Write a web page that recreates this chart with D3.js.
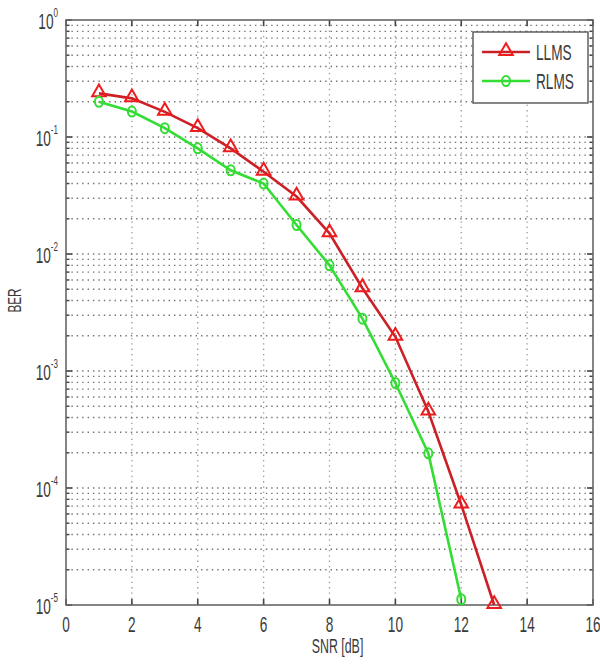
<!DOCTYPE html>
<html>
<head>
<meta charset="utf-8">
<script src="https://cdn.jsdelivr.net/npm/d3@7"></script>
<style>
  body { margin: 0; background: #fff; }
  text { font-family: "Liberation Sans", Arial, sans-serif; fill: #3a3a3a; }
</style>
</head>
<body>
<div id="chart"></div>
<script>
// data
var snrLLMS = [1, 2, 3, 4, 5, 6, 7, 8, 9, 10, 11, 12, 13];
var berLLMS = [0.236, 0.214, 0.164, 0.119, 0.080, 0.0505, 0.031, 0.015, 0.0051, 0.00196, 0.00045, 0.000072, 0.00001];
var snrRLMS = [1, 2, 3, 4, 5, 6, 7, 8, 9, 10, 11, 12];
var berRLMS = [0.200, 0.165, 0.119, 0.080, 0.052, 0.040, 0.0177, 0.0080, 0.0028, 0.00079, 0.000198, 0.0000112];
var xTicks = [0, 2, 4, 6, 8, 10, 12, 14, 16];
var yExps = [0, -1, -2, -3, -4, -5];
var seriesNames = ["LLMS", "RLMS"];

var W = 600, H = 671;
var margin = { top: 20, right: 7, bottom: 66, left: 66 };
var width = W - margin.left - margin.right;
var height = H - margin.top - margin.bottom;
var squeeze = 0.62; // the source text is squashed sideways

var svg = d3.select("#chart").append("svg")
    .attr("width", W)
    .attr("height", H);
var g = svg.append("g")
    .attr("transform", "translate(" + margin.left + "," + margin.top + ")");

var x = d3.scaleLinear().domain([0, 16]).range([0, width]);
var y = d3.scaleLog().domain([1e-5, 1]).range([height, 0]);

// narrow text: a group placed at (px,py) and squeezed in x
function ntext(parent, px, py, anchor, size, str, rot) {
  var t = parent.append("g")
      .attr("transform", "translate(" + px + "," + py + ")" + (rot ? " rotate(" + rot + ")" : "") + " scale(" + squeeze + ",1)")
    .append("text")
      .attr("text-anchor", anchor)
      .style("font-size", size + "px");
  if (str !== null) t.text(str);
  return t;
}

// minor values for log grid
var minorVals = [];
yExps.slice(1).forEach(function(e) {
    for (var k = 2; k <= 9; k++) minorVals.push(k * Math.pow(10, e));
});

// grid
g.selectAll(".hgrid").data(minorVals.concat(yExps.slice(1, -1).map(function(e){ return Math.pow(10, e); })))
  .enter().append("line")
    .attr("x1", 0).attr("x2", width)
    .attr("y1", function(d){ return y(d); })
    .attr("y2", function(d){ return y(d); })
    .style("stroke", "#444")
    .style("stroke-width", 1.4)
    .style("stroke-dasharray", "1.4,4")
    .style("opacity", 0.75);
g.selectAll(".vgrid").data(xTicks.slice(1, -1))
  .enter().append("line")
    .attr("x1", function(d){ return x(d); })
    .attr("x2", function(d){ return x(d); })
    .attr("y1", 0).attr("y2", height)
    .style("stroke", "#555")
    .style("stroke-width", 1.3)
    .style("stroke-dasharray", "1.3,4")
    .style("opacity", 0.6);

// ticks inside on all four sides
function tickLines(cls, data, x1, x2, y1, y2, w) {
  g.selectAll("." + cls).data(data).enter().append("line")
    .attr("x1", x1).attr("x2", x2).attr("y1", y1).attr("y2", y2)
    .style("stroke", "#444").style("stroke-width", w);
}
tickLines("xb", xTicks, function(d){ return x(d); }, function(d){ return x(d); }, height, height - 6, 1.6);
tickLines("xt", xTicks, function(d){ return x(d); }, function(d){ return x(d); }, 0, 6, 1.6);
var majors = yExps.map(function(e){ return Math.pow(10, e); });
tickLines("yl", majors, 0, 6, function(d){ return y(d); }, function(d){ return y(d); }, 1.6);
tickLines("yr", majors, width, width - 6, function(d){ return y(d); }, function(d){ return y(d); }, 1.6);
tickLines("yln", minorVals, 0, 3.5, function(d){ return y(d); }, function(d){ return y(d); }, 1.4);
tickLines("yrn", minorVals, width, width - 3.5, function(d){ return y(d); }, function(d){ return y(d); }, 1.4);

// frame
g.append("rect")
    .attr("width", width).attr("height", height)
    .style("fill", "none").style("stroke", "#666").style("stroke-width", 1.6);

// x tick labels
xTicks.forEach(function(d) {
  ntext(g, x(d), height + 27, "middle", 22, d);
});

// y tick labels 10^e
yExps.forEach(function(d) {
  var t = ntext(g, -8, y(Math.pow(10, d)) + 9, "end", 22, null);
  t.append("tspan").text("10");
  t.append("tspan")
    .attr("dy", -12)
    .style("font-size", "13px")
    .text(d === 0 ? "0" : d);
});

// axis titles
ntext(g, width / 2 + 8, height + 48, "middle", 20, "SNR [dB]");
ntext(g, -45, height / 2 - 12, "middle", 19, "BER", -90);

// series
var colors = ["#cc2027", "#33dd33"];
var markColors = ["#ee1c1c", "#33dd33"];
var series = [
  { name: seriesNames[0], xs: snrLLMS, ys: berLLMS },
  { name: seriesNames[1], xs: snrRLMS, ys: berRLMS }
];
var line = d3.line()
    .x(function(d){ return x(d[0]); })
    .y(function(d){ return y(d[1]); });
var triangle = d3.symbol().type(d3.symbolTriangle).size(80);

series.forEach(function(s, i) {
  var pts = s.xs.map(function(v, j){ return [v, s.ys[j]]; });
  g.append("path").datum(pts)
    .attr("d", line)
    .style("fill", "none")
    .style("stroke", colors[i])
    .style("stroke-width", 2.6);
  if (i === 0) {
    g.selectAll(".tri").data(pts).enter().append("path")
      .attr("d", triangle)
      .attr("transform", function(d){ return "translate(" + x(d[0]) + "," + (y(d[1]) - 1) + ")"; })
      .style("fill", "none").style("stroke", markColors[i]).style("stroke-width", 2);
  } else {
    g.selectAll(".circ").data(pts).enter().append("ellipse")
      .attr("cx", function(d){ return x(d[0]); })
      .attr("cy", function(d){ return y(d[1]); })
      .attr("rx", 4).attr("ry", 5)
      .style("fill", "none").style("stroke", markColors[i]).style("stroke-width", 2);
  }
});

// legend
var lg = svg.append("g").attr("transform", "translate(473,32)");
lg.append("rect")
    .attr("width", 115).attr("height", 71)
    .style("fill", "#fff").style("stroke", "#555").style("stroke-width", 1.4);
series.forEach(function(s, i) {
  var ly = 20 + i * 29;
  lg.append("line")
    .attr("x1", 9).attr("x2", 57).attr("y1", ly).attr("y2", ly)
    .style("stroke", colors[i]).style("stroke-width", 2.6);
  if (i === 0) {
    lg.append("path").attr("d", triangle)
      .attr("transform", "translate(33," + (ly - 1) + ")")
      .style("fill", "none").style("stroke", markColors[i]).style("stroke-width", 2);
  } else {
    lg.append("ellipse").attr("cx", 33).attr("cy", ly).attr("rx", 4).attr("ry", 5)
      .style("fill", "none").style("stroke", markColors[i]).style("stroke-width", 2);
  }
  ntext(lg, 63, ly + 8, "start", 22, s.name);
});
</script>
</body>
</html>
